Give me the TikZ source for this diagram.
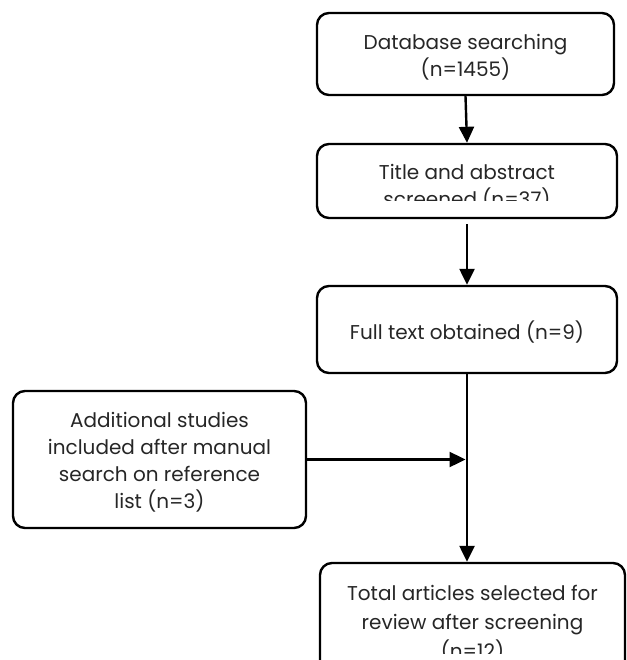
\documentclass[tikz,border=0pt]{standalone}
\usepackage{fontspec}
\setmainfont{Poppins}
\usetikzlibrary{arrows.meta}
\begin{document}
\begin{tikzpicture}[x=1pt,y=-1pt,
  box/.style={draw,line width=2.4pt,rounded corners=12pt,inner sep=0pt},
  txt/.style={align=center,font=\fontsize{20}{27}\selectfont,inner sep=0pt,text=black!85},
  arr/.style={line width=2.4pt,-{Triangle[width=15pt,length=16pt]}}]
\clip (0,0) rectangle (626,660);
\node[box,minimum width=297pt,minimum height=82pt] (b1) at (465.5,54) {};
\node[box,minimum width=300pt,minimum height=74pt] (b2) at (467,181) {};
\node[box,minimum width=300pt,minimum height=87pt] (b3) at (467,329.5) {};
\node[box,minimum width=293pt,minimum height=137pt] (b4) at (159.5,459.5) {};
\node[box,minimum width=305pt,minimum height=120pt] (b5) at (472.5,623) {};
\node[txt] (t1) at (465.5,57) {Database searching\\(n=1455)};
\begin{scope}
\clip (317,144) rectangle (617,201);
\node[txt] (t2) at (467,187) {Title and abstract\\screened (n=37)};
\end{scope}
\node[txt] (t3) at (467,332) {Full text obtained (n=9)};
\node[txt] (t4) at (159.5,462) {Additional studies\\included after manual\\search on reference\\list (n=3)};
\begin{scope}
\clip (320,563) rectangle (625,653);
\node[txt,font=\fontsize{20}{29}\selectfont] (t5) at (472.5,624) {Total articles selected for\\review after screening\\(n=12)};
\end{scope}
\draw[arr] (b1.south) -- (b2.north);
\draw[arr] (b2.south) ++(0,5) -- (b3.north);
\draw[arr] (b3.south) -- (b3.south |- b5.north);
\draw[arr] (b4.east) -- ([xshift=-1.5pt]b4.east -| b3.south);
\end{tikzpicture}
\end{document}
